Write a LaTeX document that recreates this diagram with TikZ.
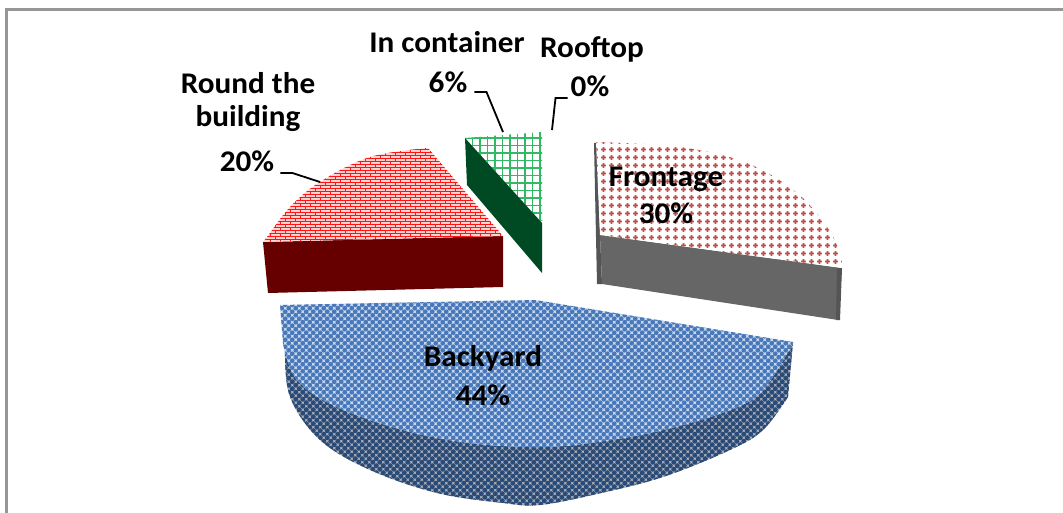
\documentclass[tikz,border=0pt]{standalone}
\usepackage{fontspec}
\setmainfont{Carlito}[FakeStretch=1.04]
\usetikzlibrary{patterns}

% colours of the slices
\definecolor{frameGray}{RGB}{150,150,150}
\definecolor{byBlue}{RGB}{72,120,185}
\definecolor{byTopBg}{RGB}{205,220,240}
\definecolor{byNavy}{RGB}{42,75,120}
\definecolor{bySideBg}{RGB}{175,178,185}
\definecolor{ftRed}{RGB}{192,80,77}
\definecolor{ftSide}{RGB}{102,102,102}
\definecolor{ftEdge}{RGB}{85,85,85}
\definecolor{rbRed}{RGB}{255,20,20}
\definecolor{rbTopBg}{RGB}{255,210,210}
\definecolor{rbSide}{RGB}{102,0,0}
\definecolor{icGreen}{RGB}{50,185,100}
\definecolor{icSide}{RGB}{0,74,35}

% staggered dots (blue top face)
\pgfdeclarepatternformonly{bluedots}{\pgfqpoint{-1pt}{-1pt}}{\pgfqpoint{8pt}{8pt}}{\pgfqpoint{7pt}{7pt}}{%
  \pgfpathcircle{\pgfqpoint{1.75pt}{1.75pt}}{2.4pt}%
  \pgfpathcircle{\pgfqpoint{5.25pt}{5.25pt}}{2.4pt}%
  \pgfusepath{fill}}
% staggered dots, larger (blue side face)
\pgfdeclarepatternformonly{navydots}{\pgfqpoint{-1pt}{-1pt}}{\pgfqpoint{8pt}{8pt}}{\pgfqpoint{7pt}{7pt}}{%
  \pgfpathcircle{\pgfqpoint{1.75pt}{1.75pt}}{2.5pt}%
  \pgfpathcircle{\pgfqpoint{5.25pt}{5.25pt}}{2.5pt}%
  \pgfusepath{fill}}
% plus-shaped dots (red top face)
\pgfdeclarepatternformonly{plusdots}{\pgfqpoint{0pt}{0pt}}{\pgfqpoint{7.5pt}{7.5pt}}{\pgfqpoint{7.5pt}{7.5pt}}{%
  \pgfpathrectangle{\pgfqpoint{1.2pt}{2.9pt}}{\pgfqpoint{5.1pt}{1.7pt}}%
  \pgfpathrectangle{\pgfqpoint{2.9pt}{1.2pt}}{\pgfqpoint{1.7pt}{5.1pt}}%
  \pgfpathcircle{\pgfqpoint{3.75pt}{3.75pt}}{2.1pt}%
  \pgfusepath{fill}}
% horizontal bricks
\pgfdeclarepatternformonly{redbricks}{\pgfqpoint{-0.5pt}{-0.5pt}}{\pgfqpoint{10.5pt}{6.5pt}}{\pgfqpoint{10pt}{6pt}}{%
  \pgfsetlinewidth{1.0pt}%
  \pgfpathmoveto{\pgfqpoint{0pt}{0pt}}\pgfpathlineto{\pgfqpoint{10pt}{0pt}}%
  \pgfpathmoveto{\pgfqpoint{0pt}{3pt}}\pgfpathlineto{\pgfqpoint{10pt}{3pt}}%
  \pgfpathmoveto{\pgfqpoint{0pt}{0pt}}\pgfpathlineto{\pgfqpoint{0pt}{3pt}}%
  \pgfpathmoveto{\pgfqpoint{5pt}{3pt}}\pgfpathlineto{\pgfqpoint{5pt}{6pt}}%
  \pgfusepath{stroke}}
% square grid
\pgfdeclarepatternformonly{squaregrid}{\pgfqpoint{-1pt}{-1pt}}{\pgfqpoint{8.5pt}{8.5pt}}{\pgfqpoint{7.5pt}{7.5pt}}{%
  \pgfsetlinewidth{1.3pt}%
  \pgfpathmoveto{\pgfqpoint{0pt}{0pt}}\pgfpathlineto{\pgfqpoint{7.5pt}{0pt}}%
  \pgfpathmoveto{\pgfqpoint{0pt}{0pt}}\pgfpathlineto{\pgfqpoint{0pt}{7.5pt}}%
  \pgfusepath{stroke}}

\tikzset{
  frameline/.style={draw=frameGray, line width=3pt},
  backtop/.style={preaction={fill=byTopBg}, pattern=bluedots, pattern color=byBlue},
  backside/.style={preaction={fill=bySideBg}, pattern=navydots, pattern color=byNavy},
  fronttop/.style={preaction={fill=white}, pattern=plusdots, pattern color=ftRed},
  frontside/.style={fill=ftSide},
  frontedge/.style={fill=ftEdge},
  roundtop/.style={preaction={fill=rbTopBg}, pattern=redbricks, pattern color=rbRed},
  roundside/.style={fill=rbSide},
  conttop/.style={preaction={fill=white}, pattern=squaregrid, pattern color=icGreen},
  contside/.style={fill=icSide},
  lbl/.style={font=\bfseries\fontsize{30}{36}\selectfont, text=black, inner sep=0pt, anchor=base},
  leader/.style={draw=black, line width=1.8pt},
}

\begin{document}
\begin{tikzpicture}[x=1pt, y=-1pt]
\useasboundingbox (0,0) rectangle (1063,513);

% chart frame
\draw[frameline] (6,513) -- (6,10) -- (1063,10);

% Backyard 44%
\path[backside] plot[smooth, tension=0.6] coordinates {(793,343) (763,390) (730,410) (663,430) (597,442) (540,447) (470,443) (403,430) (337,407) (297,380) (283,343)}
  -- plot[smooth, tension=0.6] coordinates {(285,350) (290,397) (320,440) (370,470) (437,493) (503,503) (540,505) (597,494) (663,477) (730,450) (763,430) (788,397)} -- cycle;
\path[backtop] (280,305) -- (535,300) -- (793,342)
  -- plot[smooth, tension=0.6] coordinates {(793,343) (763,390) (730,410) (663,430) (597,442) (540,447) (470,443) (403,430) (337,407) (297,380) (283,343)} -- cycle;

% Frontage 30%
\path[frontside] (600,235) -- (842,268) -- (838,320) -- (602,284) -- cycle;
\path[frontedge] (594,143) -- (597,143) -- (600,235) -- (602,284) -- (597,284) -- cycle;
\path[frontedge] (837,268) -- (842,268) -- (840,320) -- (836,320) -- cycle;
\path[fronttop] (600,235) -- (596,142)
  -- plot[smooth, tension=0.6] coordinates {(596,142) (680,147) (747,163) (797,193) (827,227) (840,253) (842,268)} -- cycle;

% Round the building 20%
\path[roundside] (263,242) -- (503,236) -- (503,287) -- (268,293) -- cycle;
\path[roundtop] (503,236) -- (428,148)
  -- plot[smooth, tension=0.6] coordinates {(428,148) (370,157) (320,182) (290,207) (267,237) (263,242)} -- cycle;

% In container 6%
\path[conttop] (465,138) -- (542,132) -- (542,223) -- cycle;
\path[contside] (465,138) -- (542,223) -- (542,273) -- (467,185) -- cycle;

% data labels
\node[lbl] (by-name) at (483,366) {Backyard};
\node[lbl] (by-pct)  at (483,405) {44\%};
\node[lbl] (ft-name) at (666,187) {Frontage};
\node[lbl] (ft-pct)  at (666,224) {30\%};
\node[lbl] (rb-name1) at (248,94) {Round the};
\node[lbl] (rb-name2) at (248,127) {building};
\node[lbl] (rb-pct)   at (247,172) {20\%};
\node[lbl] (ic-name) at (447,53) {In container};
\node[lbl] (ic-pct)  at (448,93) {6\%};
\node[lbl] (rt-name) at (592,58) {Rooftop};
\node[lbl] (rt-pct)  at (590,97) {0\%};

% leader lines from the percentages to their slices
\coordinate (rb-tip) at (320,182);
\coordinate (ic-tip) at (503,132);
\coordinate (rt-tip) at (552,130);
\draw[leader] ([shift={(6,1)}]rb-pct.base east) -- ++(12,0) -- (rb-tip);
\draw[leader] ([shift={(7,-1)}]ic-pct.base east) -- ++(12,0) -- (ic-tip);
\draw[leader] ([shift={(-3,1)}]rt-pct.base west) -- ++(-12,0) -- (rt-tip);
\end{tikzpicture}
\end{document}
